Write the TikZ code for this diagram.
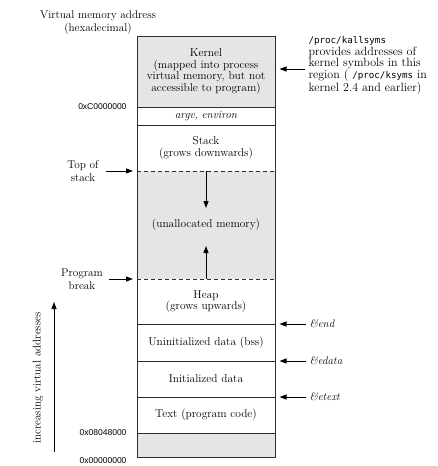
\documentclass[tikz,border=0pt]{standalone}
\usepackage{fontspec}
\newfontfamily\addrfont{Liberation Sans}
\newfontfamily\procfont{DejaVu Sans Mono}
\usetikzlibrary{arrows.meta,positioning}
\definecolor{memgray}{RGB}{229,229,229}
\definecolor{edge}{RGB}{45,45,45}

\begin{document}
\begin{tikzpicture}[
    x=1pt, y=-1pt,
    region/.style={rectangle, minimum width=138pt, inner sep=0pt, outer sep=0pt, text width=134pt, align=center, font=\fontsize{11.4}{11.8}\selectfont},
    sidetext/.style={align=center, font=\fontsize{11.2}{13.2}\selectfont},
    addr/.style={font=\addrfont\fontsize{8.5}{10}\selectfont},
    sym/.style={anchor=west, font=\itshape\fontsize{11}{12}\selectfont},
    pointer/.style={-{Triangle[length=7pt,width=5pt]}, line width=1pt},
    divider/.style={line width=0.8pt, edge}
]
    \useasboundingbox (0,0) rectangle (437,466);

    % memory regions, top to bottom
    \node[region, fill=memgray, minimum height=71pt, anchor=north west] (kernel) at (137,36) {Kernel\\(mapped into process\\virtual memory, but not\\accessible to program)};
    \node[region, minimum height=18pt, below=0pt of kernel, font=\itshape\fontsize{11.2}{12}\selectfont] (argv) {argv, environ};
    \node[region, minimum height=46pt, below=0pt of argv] (stack) {Stack\\(grows downwards)};
    \node[region, fill=memgray, minimum height=108pt, below=0pt of stack] (free) {(unallocated memory)};
    \node[region, minimum height=45pt, below=0pt of free] (heap) {Heap\\(grows upwards)};
    \node[region, minimum height=37pt, below=0pt of heap] (bss) {Uninitialized data (bss)};
    \node[region, minimum height=36pt, below=0pt of bss] (data) {Initialized data};
    \node[region, minimum height=36pt, below=0pt of data] (text) {Text (program code)};
    \node[region, fill=memgray, minimum height=24pt, below=0pt of text] (low) {};

    \foreach \r in {kernel,argv,heap,bss,data,text}
        \draw[divider] (\r.south west) -- (\r.south east);
    \foreach \r in {stack,free}
        \draw[divider, dash pattern=on 4pt off 3pt] (\r.south west) -- (\r.south east);
    \draw[line width=1pt, edge] (kernel.north west) rectangle (low.south east);

    % growth arrows
    \coordinate (stacktip) at ([yshift=-37pt]stack.south);
    \coordinate (heaptip) at ([yshift=33pt]heap.north);
    \draw[pointer] (stack.south) -- (stacktip);
    \draw[pointer] (heap.north) -- (heaptip);

    % left side
    \node[sidetext] (vmaddr) at (98,22.5) {Virtual memory address\\(hexadecimal)};
    \node[sidetext] (topstack) at (83,171) {Top of\\stack};
    \node[sidetext] (brk) at (82,279) {Program\\break};
    \draw[pointer, shorten <=4pt, shorten >=4pt] (topstack.east) -- (stack.south west);
    \draw[pointer, shorten <=3pt, shorten >=4pt] (brk.east) -- (free.south west);

    \node[addr, left=7pt of kernel.south west] (kbase) {0xC0000000};
    \node[addr, left=7pt of text.south west] (tbase) {0x08048000};
    \node[addr, left=7pt of low.south west, yshift=-4pt] (zero) {0x00000000};

    \coordinate (lowaddr) at (54,452);
    \coordinate (highaddr) at (54,302);
    \draw[pointer, line width=0.7pt] (lowaddr) -- (highaddr);
    \node[sidetext, rotate=90] (incr) at (38,378) {increasing virtual addresses};

    % right side
    \node[anchor=west, align=left, font=\fontsize{12}{11.8}\selectfont] (kallsyms) at (305,65.5) {{\procfont\fontsize{9.2}{10}\selectfont /proc/kallsyms}\\provides addresses of\\kernel symbols in this\\region ( {\procfont\fontsize{9.2}{10}\selectfont /proc/ksyms} in\\kernel 2.4 and earlier)};
    \coordinate (kptr) at (305,69);
    \draw[pointer, shorten >=4.5pt] (kptr) -- (kernel.east |- kptr);

    \node[sym] (endsym) at (306,324) {\&end};
    \node[sym] (edatasym) at (306,361) {\&edata};
    \node[sym] (etextsym) at (306,397) {\&etext};
    \draw[pointer, shorten >=4.5pt] (endsym.west) -- (heap.south east);
    \draw[pointer, shorten >=4.5pt] (edatasym.west) -- (bss.south east);
    \draw[pointer, shorten >=4.5pt] (etextsym.west) -- (data.south east);
\end{tikzpicture}
\end{document}
